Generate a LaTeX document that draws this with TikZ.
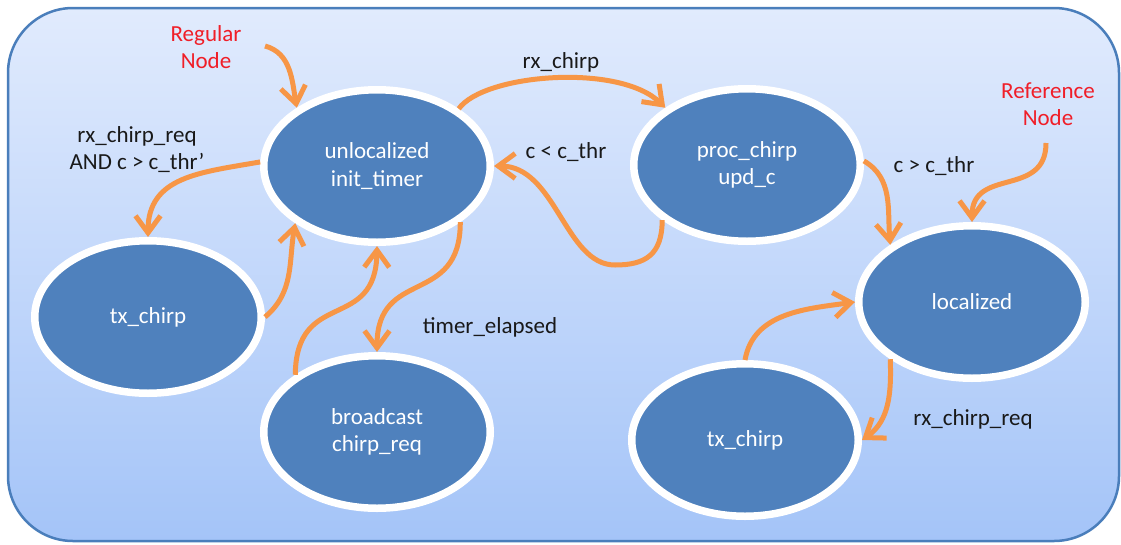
\documentclass[tikz,border=0pt]{standalone}
\usepackage{fontspec}
\setmainfont{Carlito}
\usetikzlibrary{shapes.geometric,arrows.meta}
\definecolor{nodeblue}{RGB}{79,129,189}
\definecolor{framecol}{RGB}{74,126,187}
\definecolor{arroworange}{RGB}{247,150,70}
\definecolor{bgtop}{RGB}{225,235,253}
\definecolor{bgbot}{RGB}{164,196,248}
\definecolor{labred}{RGB}{240,30,40}
\definecolor{labblack}{RGB}{25,25,25}
\begin{document}
\begin{tikzpicture}[x=1pt,y=1pt,
  state/.style={ellipse, fill=nodeblue, draw=white, line width=7.5pt,
    minimum width=226.5pt, minimum height=152.5pt, inner sep=0pt,
    text=white, align=center, font=\fontsize{23}{27.5}\selectfont},
  lbl/.style={text=labblack, align=center, inner sep=0pt, font=\fontsize{23}{27}\selectfont},
  redlbl/.style={text=labred, align=center, inner sep=0pt, font=\fontsize{23}{27}\selectfont},
  conn/.style={draw=arroworange, line width=5pt, -{Straight Barb[length=17pt,width=25pt]}}
]
\useasboundingbox (0,0) rectangle (1121,-544);
\fill[white] (0,0) rectangle (1121,-544);
\shade[top color=bgtop, bottom color=bgbot, rounded corners=65pt] (8,-8) rectangle (1119,-541);
\draw[framecol, line width=2.5pt, rounded corners=65pt] (8,-8) rectangle (1119,-541);

% states
\node[state] (U)  at (377,-166) {unlocalized\\init\_timer};
\node[state] (P)  at (747,-165) {proc\_chirp\\upd\_c};
\node[state] (L)  at (972,-302) {localized};
\node[state] (T1) at (148,-317) {tx\_chirp};
\node[state] (B)  at (377,-432) {broadcast\\chirp\_req};
\node[state] (T2) at (745,-440) {tx\_chirp};

% labels
\node[redlbl] (regl) at (206,-47) {Regular\\Node};
\node[redlbl] (refl) at (1048,-104) {Reference\\Node};
\node[lbl] (l1) at (561,-62) {rx\_chirp};
\node[lbl] (l2) at (137,-150) {rx\_chirp\_req\\AND c > c\_thr’};
\node[lbl] (l3) at (566,-152) {c < c\_thr};
\node[lbl] (l4) at (934,-166) {c > c\_thr};
\node[lbl] (l5) at (490,-327) {timer\_elapsed};
\node[lbl] (l6) at (973,-419) {rx\_chirp\_req};

% free ends and waypoints
\coordinate (rn) at (265,-46);
\coordinate (rf) at (1046,-143);
\coordinate (w7) at (615,-265);

% connectors
\draw[conn] (rn) to[out=-15,in=100] (U.144);
\draw[conn] (U.178) to[out=190,in=90,looseness=1.15] (T1.90);
\draw[conn] (T1.0) to[out=40,in=-100] (U.215);
\draw[conn] (B.145) .. controls +(1,87) and +(-1,-87) .. (U.270);
\draw[conn] (U.-34) .. controls +(0,-85) and +(0,85) .. (B.90);
\draw[conn] (U.35) .. controls +(25,35) and +(-45,45) .. (P.145);
\draw[conn] (P.213) .. controls +(0,-35) and +(30,0) .. (w7) .. controls +(-50,0) and +(62,0) .. (U.0);
\draw[conn] (P.2) to[out=-30,in=95] (L.145);
\draw[conn] (rf) .. controls +(0,-55) and +(0,55) .. (L.90);
\draw[conn] (T2.90) to[out=80,in=188] (L.180);
\draw[conn] (L.215) to[out=-88,in=35] (T2.0);
\end{tikzpicture}
\end{document}
